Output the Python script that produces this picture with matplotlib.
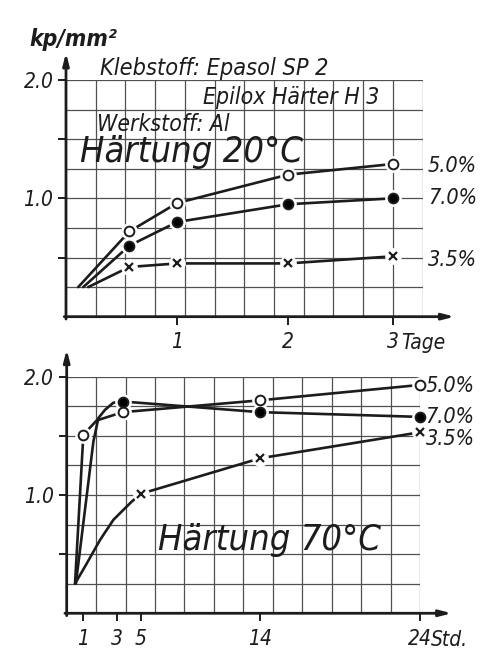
import numpy as np
import matplotlib
matplotlib.use('Agg')
from matplotlib import pyplot as plt
from matplotlib.transforms import blended_transform_factory

plt.rcParams['font.family'] = ['DejaVu Sans']
plt.rcParams['font.stretch'] = 'condensed'
plt.rcParams['font.style'] = 'italic'

# ---------------------------------------------
# values (kp/mm^2)
# ---------------------------------------------
# Haertung 20 C, x in days
t20_days_50 = [0.11, 0.57, 1.0, 2.0, 3.0]
t20_kp_50 = [0.25, 0.72, 0.96, 1.20, 1.29]
t20_days_70 = [0.155, 0.57, 1.0, 2.0, 3.0]
t20_kp_70 = [0.25, 0.60, 0.80, 0.95, 1.00]
t20_days_35 = [0.20, 0.57, 1.0, 2.0, 3.0]
t20_kp_35 = [0.25, 0.42, 0.45, 0.45, 0.51]
t20_marks = [1, 2, 3, 4]

# Haertung 70 C, x in hours (extra points follow the drawn curve)
t70_hours_50 = [0.5, 1.0, 1.8, 3.5, 14, 24]
t70_kp_50 = [0.25, 1.51, 1.63, 1.70, 1.80, 1.93]
t70_marks_50 = [1, 3, 4, 5]
t70_hours_70 = [0.55, 1.6, 1.9, 2.3, 2.8, 3.5, 14, 24]
t70_kp_70 = [0.25, 1.45, 1.65, 1.72, 1.78, 1.79, 1.70, 1.66]
t70_marks_70 = [5, 6, 7]
t70_hours_35 = [0.5, 1.2, 2.0, 2.8, 4.2, 5, 14, 24]
t70_kp_35 = [0.25, 0.42, 0.62, 0.79, 0.94, 1.01, 1.31, 1.53]
t70_marks_35 = [5, 6, 7]

series_labels = ['5.0%', '7.0%', '3.5%']
markers = ['o', 'o', 'x']
marker_faces = ['white', 'black', 'black']

day_ticks = [1, 2, 3]
hour_ticks = [1, 3, 5, 14, 24]

# the hand-drawn time axes are not quite uniform: tick value -> grid cell
day_anchor = ([0, 1, 2, 3, 4], [0, 3.74, 7.47, 11.0, 14.6])
hour_anchor = ([0, 1, 3, 5, 14, 24, 30], [0, 0.566, 1.70, 2.52, 6.57, 12.0, 15.3])

ink = '#1c1c1c'
grid_c = '#505050'
n_cells = 12


def make_scale(anchor):
    vals, cells = anchor

    def fwd(x):
        return np.interp(x, vals, cells)

    def inv(c):
        return np.interp(c, cells, vals)
    return fwd, inv


def setup_panel(ax, anchor, ticks, tick_labels):
    fwd, inv = make_scale(anchor)
    ax.set_xscale('function', functions=(fwd, inv))
    ax.set_xlim(0, inv(n_cells))
    ax.set_ylim(0, 2.0)
    for c in range(1, n_cells + 1):
        ax.axvline(inv(c), color=grid_c, lw=0.9, zorder=1)
    for v in np.arange(0.25, 2.01, 0.25):
        ax.axhline(v, color=grid_c, lw=0.9, zorder=1)
    for s in ax.spines.values():
        s.set_visible(False)
    arrow = dict(arrowstyle='-|>,head_length=0.7,head_width=0.18', color=ink,
                 lw=2.0, shrinkA=0, shrinkB=0)
    ax.annotate('', xy=(0, 1.115), xytext=(0, -0.01), xycoords='axes fraction',
                arrowprops=arrow, zorder=5)
    ax.annotate('', xy=(1.09, 0), xytext=(-0.005, 0), xycoords='axes fraction',
                arrowprops=arrow, zorder=5)
    ax.set_yticks([0.5, 1.0, 1.5, 2.0])
    ax.set_yticklabels(['', '1.0', '', '2.0'])
    ax.set_xticks(ticks)
    ax.set_xticklabels(tick_labels)
    ax.tick_params(axis='both', direction='out', length=6, width=1.4,
                   color=ink, labelcolor=ink, labelsize=15, pad=3)
    ax.tick_params(axis='x', pad=5)
    ax.minorticks_off()
    return inv


def draw_series(ax, xs, ys, marks, mk, face, label, x_end, dy):
    ax.plot(xs, ys, color=ink, lw=1.9, zorder=3, solid_capstyle='round')
    mx = [xs[i] for i in marks]
    my = [ys[i] for i in marks]
    ax.plot(mx, my, 'o', color='white', ms=11, zorder=4, clip_on=False)
    if mk == 'x':
        ax.plot(mx, my, 'x', color=ink, ms=6, mew=1.6, zorder=5, clip_on=False)
    else:
        ax.plot(mx, my, 'o', mfc=face, mec=ink, ms=7, mew=1.4, zorder=5, clip_on=False)
    ax.annotate(label, xy=(x_end, ys[-1]), xytext=(4, dy), textcoords='offset points',
                ha='left', va='center', fontsize=15.5, color=ink)


fig = plt.figure(figsize=(4.9, 6.52), dpi=100)
fig.patch.set_facecolor('white')

# ---------------- upper panel: 20 C ----------------
ax1 = fig.add_axes([0.1347, 0.5143, 0.7276, 0.3630])
inv1 = setup_panel(ax1, day_anchor, day_ticks, ['1', '2', '3'])
top_x = [t20_days_50, t20_days_70, t20_days_35]
top_y = [t20_kp_50, t20_kp_70, t20_kp_35]
for i in range(3):
    draw_series(ax1, top_x[i], top_y[i], t20_marks, markers[i], marker_faces[i],
                series_labels[i], inv1(n_cells), [-1.5, 0, -2.5][i])

trans1 = blended_transform_factory(ax1.transData, ax1.transAxes)
ax1.annotate('Tage', xy=(3, 0), xycoords=trans1, xytext=(6, -12),
             textcoords='offset points', ha='left', va='top', fontsize=15, color=ink)

ax1.text(0.02, 1.17, 'kp/mm²', transform=ax1.transAxes, ha='center', va='center',
         fontsize=16.5, fontweight='bold', color=ink)
ax1.text(0.095, 1.05, 'Klebstoff: Epasol SP 2', transform=ax1.transAxes,
         ha='left', va='center', fontsize=16.8, color=ink)
ax1.text(0.384, 0.928, 'Epilox Härter H 3', transform=ax1.transAxes,
         ha='left', va='center', fontsize=16.5, color=ink)
ax1.text(0.087, 0.81, 'Werkstoff: Al', transform=ax1.transAxes,
         ha='left', va='center', fontsize=16.5, color=ink)
ax1.text(0.039, 0.696, 'Härtung 20°C', transform=ax1.transAxes,
         ha='left', va='center', fontsize=26, color=ink)

# ---------------- lower panel: 70 C ----------------
ax2 = fig.add_axes([0.1361, 0.0594, 0.7210, 0.3629])
inv2 = setup_panel(ax2, hour_anchor, hour_ticks, ['1', '3', '5', '14', '24'])
bot_x = [t70_hours_50, t70_hours_70, t70_hours_35]
bot_y = [t70_kp_50, t70_kp_70, t70_kp_35]
bot_marks = [t70_marks_50, t70_marks_70, t70_marks_35]
for i in range(3):
    draw_series(ax2, bot_x[i], bot_y[i], bot_marks[i], markers[i], marker_faces[i],
                series_labels[i], inv2(n_cells), [-1, 0, -5][i])

trans2 = blended_transform_factory(ax2.transData, ax2.transAxes)
ax2.annotate('Std.', xy=(24, 0), xycoords=trans2, xytext=(8, -12),
             textcoords='offset points', ha='left', va='top', fontsize=15, color=ink)
ax2.text(0.258, 0.31, 'Härtung 70°C', transform=ax2.transAxes,
         ha='left', va='center', fontsize=26, color=ink)

fig.savefig('out.png', dpi=100, facecolor='white')
